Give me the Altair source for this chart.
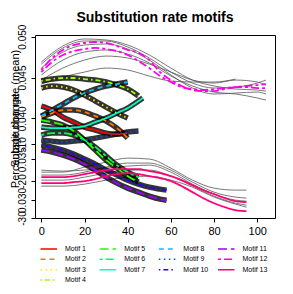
import altair as alt
import pandas as pd

FONT = "Liberation Sans"

MOTIFS = [f"Motif {i}" for i in range(1, 14)]
COLORS = ["#FF0000", "#FF7600", "#FFEB00", "#9DFF00", "#27FF00", "#00FF4E", "#00FFC4",
          "#00C4FF", "#004EFF", "#2700FF", "#9D00FF", "#FF00EB", "#FF0076"]
SOLID, DASHED, DOTTED, DOTDASH, LONGDASH, TWODASH = [1, 0], [5, 4], [1.5, 3.5], [1.5, 3, 5, 3], [9, 4], [3, 3, 8, 3]
DASHES = [SOLID, DASHED, DOTTED, DOTDASH, LONGDASH, TWODASH,
          SOLID, DASHED, DOTTED, DOTDASH, LONGDASH, TWODASH, SOLID]

X_TICKS = [0, 20, 40, 60, 80, 100]
RATE_TICKS = [0.030, 0.035, 0.040, 0.045, 0.050]
PCT_TICKS = [-30, -20, -10]

# x positions
X40 = [0, 5, 10, 15, 20, 25, 30, 35, 40]
X45 = [0, 5, 10, 15, 20, 25, 30, 35, 40, 45]
X47 = [0, 5, 10, 15, 20, 25, 30, 35, 40, 45, 47]
X58 = [0, 5, 10, 15, 20, 25, 30, 35, 40, 45, 50, 55, 58]
XA = [0, 5, 10, 15, 20, 25, 30, 35, 40, 45, 50, 55, 60, 65, 70, 75, 80, 85, 90, 95, 100, 104]
XA_G = [0, 10, 20, 30, 40, 50, 60, 70, 80, 90, 100, 104]
XA_G6 = [0, 10, 20, 30, 40, 50, 60, 70, 80, 90]
XB = [0, 5, 10, 15, 20, 25, 30, 35, 40, 45, 50, 55, 60, 65, 70, 75, 80, 85, 90, 95]
XB_G = [0, 10, 20, 30, 40, 50, 60, 70, 80, 90, 95]

# motif mean substitution rates
M1 = [0.04150, 0.04101, 0.04016, 0.03954, 0.03893, 0.03856, 0.03819, 0.03807, 0.03819]
M2 = [0.04016, 0.04065, 0.04101, 0.04101, 0.04077, 0.04028, 0.03967, 0.03881, 0.03758]
M3 = [0.04371, 0.04396, 0.04383, 0.04347, 0.04285, 0.04212, 0.04138, 0.04065, 0.04003]
M4 = [0.04457, 0.04481, 0.04494, 0.04494, 0.04481, 0.04469, 0.04445, 0.04408, 0.04359, 0.04273]
M5 = [0.03979, 0.03954, 0.03918, 0.03844, 0.03734, 0.03611, 0.03488, 0.03390, 0.03292, 0.03219]
M6 = [0.03795, 0.03819, 0.03819, 0.03795, 0.03734, 0.03648, 0.03537, 0.03427, 0.03341, 0.03280]
M7 = [0.03893, 0.03881, 0.03881, 0.03887, 0.03905, 0.03954, 0.04003, 0.04065, 0.04126, 0.04212, 0.04249]
M8 = [0.04028, 0.04101, 0.04175, 0.04249, 0.04310, 0.04359, 0.04396, 0.04420, 0.04445]
M9 = [0.03734, 0.03721, 0.03709, 0.03721, 0.03734, 0.03758, 0.03783, 0.03807, 0.03832, 0.03844]
M10 = [0.03672, 0.03648, 0.03611, 0.03562, 0.03501, 0.03439, 0.03366, 0.03305, 0.03243, 0.03194, 0.03157, 0.03133, 0.03121]
M11 = [0.03611, 0.03586, 0.03550, 0.03501, 0.03439, 0.03366, 0.03280, 0.03207, 0.03145, 0.03096, 0.03047, 0.03010, 0.02998]
M12A = [0.04592, 0.04739, 0.04837, 0.04898, 0.04923, 0.04935, 0.04923, 0.04886, 0.04837, 0.04800, 0.04714,
        0.04567, 0.04469, 0.04396, 0.04347, 0.04334, 0.04334, 0.04359, 0.04383, 0.04396, 0.04408, 0.04420]
M12B = [0.04567, 0.04690, 0.04776, 0.04825, 0.04849, 0.04862, 0.04849, 0.04825, 0.04776, 0.04702, 0.04616,
        0.04518, 0.04445, 0.04383, 0.04359, 0.04347, 0.04359, 0.04371, 0.04383, 0.04383, 0.04371, 0.04371]
M13A = [0.03280, 0.03280, 0.03280, 0.03292, 0.03317, 0.03341, 0.03366, 0.03378, 0.03378, 0.03378,
        0.03354, 0.03329, 0.03292, 0.03243, 0.03182, 0.03121, 0.03072, 0.03023, 0.02986, 0.02974]
M13B = [0.03207, 0.03207, 0.03207, 0.03219, 0.03231, 0.03256, 0.03292, 0.03317, 0.03329, 0.03317,
        0.03292, 0.03268, 0.03231, 0.03170, 0.03096, 0.03023, 0.02961, 0.02912, 0.02875, 0.02863]

# replicate (gray) lines
GA1 = [0.04665, 0.04862, 0.04947, 0.04947, 0.04874, 0.04739, 0.04567, 0.04432, 0.04371, 0.04383, 0.04432, 0.04469]
GA2 = [0.04616, 0.04812, 0.04898, 0.04911, 0.04849, 0.04714, 0.04531, 0.04371, 0.04298, 0.04310, 0.04322, 0.04298]
GA3 = [0.04531, 0.04714, 0.04812, 0.04837, 0.04788, 0.04678, 0.04518, 0.04396, 0.04322, 0.04298, 0.04249, 0.04224]
GA4 = [0.04469, 0.04616, 0.04714, 0.04763, 0.04739, 0.04665, 0.04567, 0.04469, 0.04432, 0.04469, 0.04445, 0.04408]
GA5 = [0.04690, 0.04886, 0.04972, 0.04960, 0.04898, 0.04776, 0.04616, 0.04469, 0.04396, 0.04359, 0.04347, 0.04334]
GA6 = [0.04420, 0.04506, 0.04567, 0.04616, 0.04592, 0.04518, 0.04457, 0.04445, 0.04445, 0.04481]
GB1 = [0.03341, 0.03341, 0.03403, 0.03464, 0.03513, 0.03501, 0.03390, 0.03243, 0.03145, 0.03121, 0.03121]
GB2 = [0.03305, 0.03305, 0.03341, 0.03403, 0.03452, 0.03452, 0.03366, 0.03219, 0.03096, 0.03035, 0.03023]
GB3 = [0.03243, 0.03243, 0.03280, 0.03329, 0.03366, 0.03366, 0.03292, 0.03170, 0.03047, 0.02961, 0.02937]
GB4 = [0.03170, 0.03170, 0.03194, 0.03243, 0.03280, 0.03292, 0.03243, 0.03157, 0.03035, 0.02949, 0.02912]
GB5 = [0.03366, 0.03354, 0.03366, 0.03390, 0.03415, 0.03427, 0.03341, 0.03194, 0.03072, 0.02998, 0.02986]

# legend layout (column, row) for each motif
LEG_COL = [0, 0, 0, 0, 1, 1, 1, 2, 2, 2, 3, 3, 3]
LEG_ROW = [0, 1, 2, 3, 0, 1, 2, 0, 1, 2, 0, 1, 2]

rows = []


def add(line, motif, kind, xs, ys):
    for xv, yv in zip(xs, ys):
        rows.append({"line": line, "motif": motif, "kind": kind, "x": xv, "rate": yv})


for name, xs, ys in [("Motif 1", X40, M1), ("Motif 2", X40, M2), ("Motif 3", X40, M3),
                     ("Motif 4", X45, M4), ("Motif 5", X45, M5), ("Motif 6", X45, M6),
                     ("Motif 7", X47, M7), ("Motif 8", X40, M8), ("Motif 9", X45, M9),
                     ("Motif 10", X58, M10), ("Motif 11", X58, M11)]:
    add(name, name, "core", xs, ys)
add("Motif 12a", "Motif 12", "motif", XA, M12A)
add("Motif 12b", "Motif 12", "motif", XA, M12B)
add("Motif 13a", "Motif 13", "motif", XB, M13A)
add("Motif 13b", "Motif 13", "motif", XB, M13B)
for i, ys in enumerate([GA1, GA2, GA3, GA4, GA5]):
    add(f"ga{i}", "", "gray", XA_G, ys)
add("ga6", "", "gray", XA_G6, GA6)
for i, ys in enumerate([GB1, GB2, GB3, GB4, GB5]):
    add(f"gb{i}", "", "gray", XB_G, ys)

df = pd.DataFrame(rows)
leg_df = pd.DataFrame({"motif": MOTIFS, "col": LEG_COL, "row": LEG_ROW})
pct_df = pd.DataFrame({"pct": PCT_TICKS})

x_enc = alt.X("x:Q", scale=alt.Scale(domain=[-2.92, 108.2], nice=False, zero=False),
              axis=alt.Axis(values=X_TICKS, title=None, labelFontSize=11, labelPadding=3,
                            labelFlush=False))
y_enc = alt.Y("rate:Q", scale=alt.Scale(domain=[0.027794, 0.050208], nice=False, zero=False),
              axis=alt.Axis(orient="left", values=RATE_TICKS, format=".3f",
                            labelAngle=-90, labelAlign="center", labelBaseline="bottom",
                            labelPadding=4, labelOverlap=False,
                            title="Substitution rate (mean)", titleX=-15, titleY=73,
                            titleAngle=-90, titleAlign="center", titleBaseline="bottom"))
color_enc = alt.Color("motif:N", scale=alt.Scale(domain=MOTIFS, range=COLORS), legend=None)
dash_enc = alt.StrokeDash("motif:N", scale=alt.Scale(domain=MOTIFS, range=DASHES), legend=None)

gray = alt.Chart(df).transform_filter("datum.kind == 'gray'").mark_line(
    color="#555555", strokeWidth=0.8, interpolate="monotone").encode(x=x_enc, y=y_enc, detail="line:N")
shadow = alt.Chart(df).transform_filter("datum.kind == 'core'").mark_line(
    color="black", strokeWidth=5.5, opacity=0.8, interpolate="monotone").encode(x=x_enc, y=y_enc, detail="line:N")
colored = alt.Chart(df).transform_filter("datum.kind != 'gray'").mark_line(
    strokeWidth=1.8, interpolate="monotone").encode(
    x=x_enc, y=y_enc, detail="line:N", color=color_enc, strokeDash=dash_enc)
main = alt.layer(gray, shadow, colored)

pct = alt.Chart(pct_df).mark_rule(opacity=0).encode(
    y=alt.Y("pct:Q", scale=alt.Scale(domain=[-30, 19.46], nice=False, zero=False),
            axis=alt.Axis(orient="left", values=PCT_TICKS, labelExpr="'' + datum.value",
                          labelAngle=-90, labelAlign="center", labelBaseline="bottom",
                          labelPadding=4, labelOverlap=False,
                          title="Percentage change", titleX=-15, titleY=105,
                          titleAngle=-90, titleAlign="center", titleBaseline="bottom")))

leg_x = alt.X("col:Q", scale=alt.Scale(domain=[0, 3], range=[5.5, 183]), axis=None)
leg_y = alt.Y("row:Q", scale=alt.Scale(domain=[0, 3], range=[214, 245]), axis=None)
leg_rule = alt.Chart(leg_df).transform_calculate(col2="datum.col + 0.279").mark_rule(
    strokeWidth=1.5).encode(x=leg_x, x2="col2:Q", y=leg_y, color=color_enc, strokeDash=dash_enc)
leg_text = alt.Chart(leg_df).mark_text(align="left", baseline="middle", dx=24.5, fontSize=7,
                                       font=FONT, color="black").encode(x=leg_x, y=leg_y, text="motif:N")
legend = alt.layer(leg_rule, leg_text)

chart = alt.layer(main, pct, legend).resolve_scale(x="independent", y="independent").properties(
    width=240, height=183,
    title=alt.TitleParams("Substitution rate motifs", font=FONT, fontSize=14, fontWeight="bold",
                          color="black", anchor="middle", offset=-1),
    autosize=alt.AutoSizeParams(type="none"),
    padding={"left": 27, "top": 27, "right": 10, "bottom": 68},
).configure_view(stroke="black", strokeWidth=1).configure_axis(
    labelFont=FONT, titleFont=FONT, labelColor="black", titleColor="black", tickColor="black",
    tickSize=4, domain=False, grid=False, labelFontSize=10, titleFontSize=11, titleFontWeight="normal")

chart.save("out.html", embed_options={"renderer": "svg", "actions": False})
